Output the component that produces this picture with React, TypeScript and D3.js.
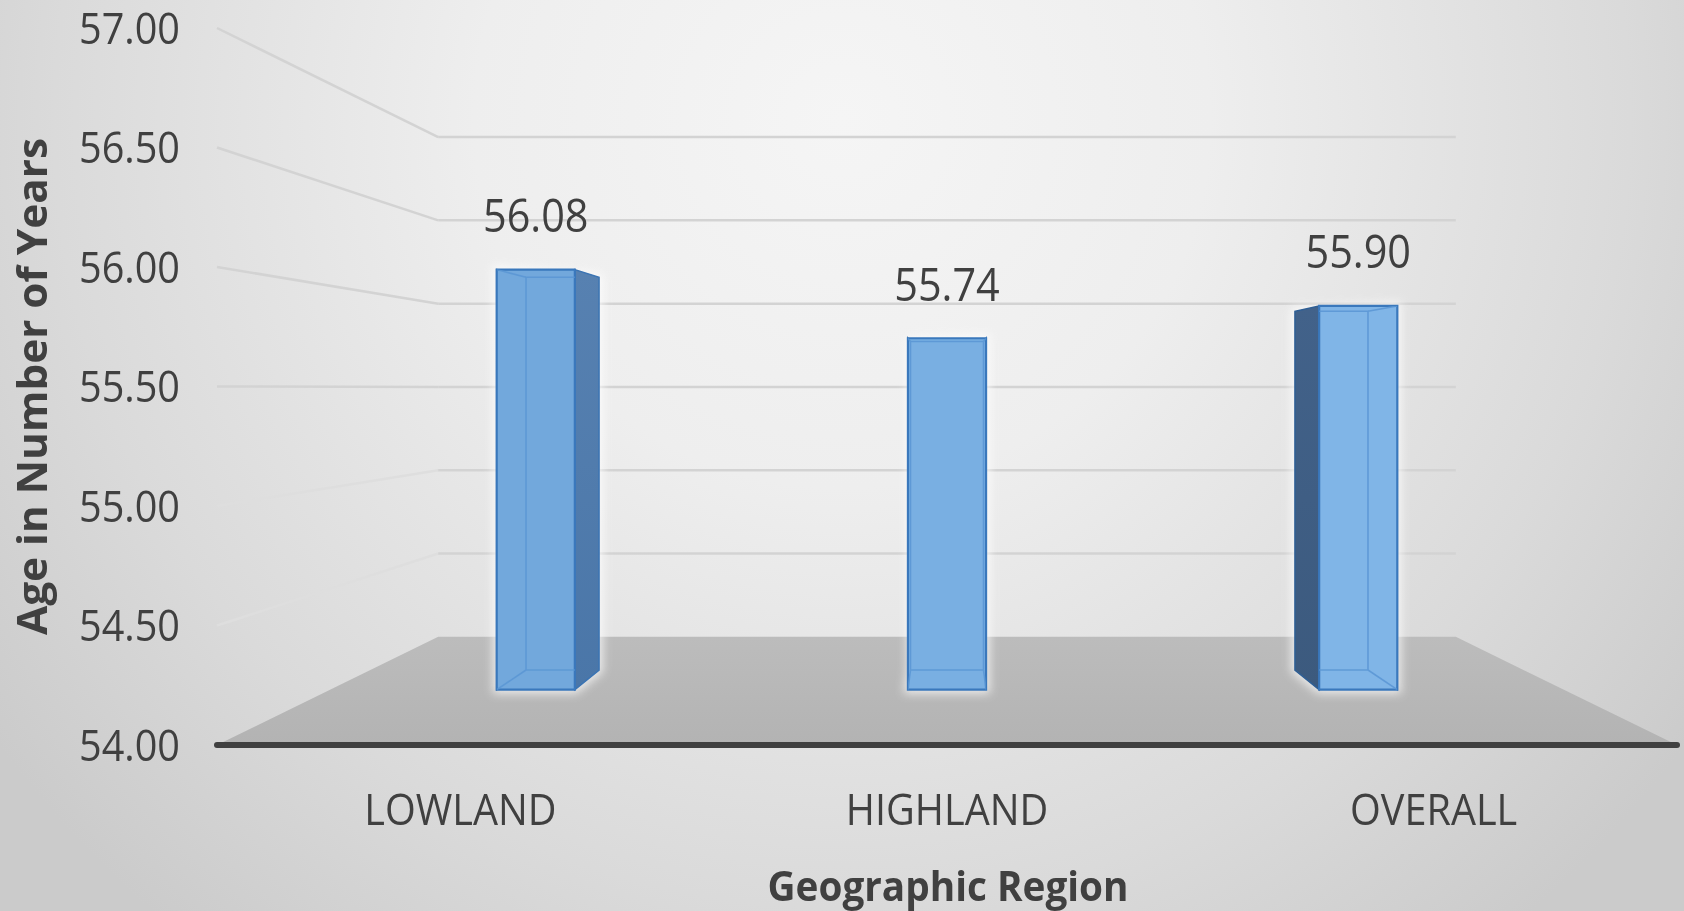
import React from "react";
import * as d3 from "d3";

// Mean age by geographic region
const categories = ["LOWLAND", "HIGHLAND", "OVERALL"];
const ages = [56.08, 55.74, 55.9];
const yTicks = [54, 54.5, 55, 55.5, 56, 56.5, 57];

const W = 1684;
const H = 911;

// simple one-point perspective: everything is laid out on the front plane
// and pulled toward the vanishing point by a depth factor k (1 = front)
const VP_X = 947;
const VP_Y = 388;
const K_BAR_FRONT = 0.845;
const K_BAR_BACK = 0.79;
const K_WALL = 0.697;

const FONT = "'Open Sans', 'Noto Sans', sans-serif";
const TEXT = "#404040";

type Pt = [number, number];
const proj = (px: number, py: number, k: number): Pt => [
  VP_X + (px - VP_X) * k,
  VP_Y + (py - VP_Y) * k,
];
const poly = (pts: Pt[]) => pts.map((p) => p.join(",")).join(" ");

export default function App() {
  const x = d3.scaleBand<string>().domain(categories).range([217, 1677]);
  const y = d3.scaleLinear().domain([54, 57]).range([745, 28]);
  const fmt = d3.format(".2f");
  const [fx0, fx1] = x.range();
  const barHalf = x.bandwidth() * 0.095;
  const frontTint = d3.interpolateRgb("#6ea5d9", "#83b8ea");

  const floor: Pt[] = [
    [fx0, y(54)],
    [fx1, y(54)],
    proj(fx1, y(54), K_WALL),
    proj(fx0, y(54), K_WALL),
  ];

  const bars = categories.map((c, i) => {
    const cx = (x(c) as number) + x.bandwidth() / 2;
    const x0 = cx - barHalf;
    const x1 = cx + barHalf;
    const top = y(ages[i]);
    const bot = y(54);
    const f = (px: number, py: number) => proj(px, py, K_BAR_FRONT);
    const b = (px: number, py: number) => proj(px, py, K_BAR_BACK);
    return {
      c,
      v: ages[i],
      t: (cx - fx0) / (fx1 - fx0),
      front: [f(x0, top), f(x1, top), f(x1, bot), f(x0, bot)] as Pt[],
      back: [b(x0, top), b(x1, top), b(x1, bot), b(x0, bot)] as Pt[],
      rightSide: [f(x1, top), b(x1, top), b(x1, bot), f(x1, bot)] as Pt[],
      leftSide: [f(x0, top), b(x0, top), b(x0, bot), f(x0, bot)] as Pt[],
      labelX: f(cx, top)[0],
      labelY: f(cx, top)[1] - 54,
    };
  });

  return (
    <svg
      width={W}
      height={H}
      viewBox={`0 0 ${W} ${H}`}
      style={{ position: "fixed", left: 0, top: 0, display: "block" }}
    >
      <defs>
        <radialGradient id="bg" gradientUnits="userSpaceOnUse" cx={842} cy={120} r={1050}>
          <stop offset="0" stopColor="#f5f5f5" />
          <stop offset="0.35" stopColor="#eeeeee" />
          <stop offset="0.75" stopColor="#dadada" />
          <stop offset="1" stopColor="#cbcbcb" />
        </radialGradient>
        <linearGradient id="floorFill" x1="0" y1="0" x2="0" y2="1">
          <stop offset="0" stopColor="#bcbcbc" />
          <stop offset="1" stopColor="#b3b3b3" />
        </linearGradient>
        <linearGradient id="sideR" x1="0" y1="0" x2="0" y2="1">
          <stop offset="0" stopColor="#5781b1" />
          <stop offset="1" stopColor="#4a76a8" />
        </linearGradient>
        <linearGradient id="sideL" x1="0" y1="0" x2="0" y2="1">
          <stop offset="0" stopColor="#42628a" />
          <stop offset="1" stopColor="#3c5a7e" />
        </linearGradient>
        <filter id="glow" x="-30%" y="-10%" width="160%" height="120%">
          <feGaussianBlur stdDeviation="5" />
        </filter>
        {bars.map((b, i) => (
          <clipPath id={`face-${i}`} key={b.c}>
            <polygon points={poly(b.front)} />
          </clipPath>
        ))}
      </defs>

      <rect x={0} y={0} width={W} height={H} fill="url(#bg)" />

      {/* side wall and back wall gridlines */}
      <g strokeWidth={2.5} fill="none">
        {yTicks
          .filter((v) => v > 54)
          .map((v) => {
            const a = proj(fx0, y(v), 1);
            const b = proj(fx0, y(v), K_WALL);
            const c = proj(fx1, y(v), K_WALL);
            const low = y(v) > VP_Y + 5;
            return (
              <g key={v}>
                <line x1={a[0]} y1={a[1]} x2={b[0]} y2={b[1]} stroke={low ? "#dedede" : "#d3d3d3"} />
                <line x1={b[0]} y1={b[1]} x2={c[0]} y2={c[1]} stroke="#d3d3d3" />
              </g>
            );
          })}
      </g>

      {/* floor */}
      <polygon points={poly(floor)} fill="url(#floorFill)" />
      <line
        x1={fx0}
        x2={fx1}
        y1={y(54)}
        y2={y(54)}
        stroke="#404040"
        strokeWidth={6}
        strokeLinecap="round"
      />

      {/* bars */}
      {bars.map((b, i) => {
        const hull = b.t < 0.5
          ? [b.front[0], b.rightSide[1], b.rightSide[2], b.front[2], b.front[3]]
          : [b.leftSide[1], b.front[1], b.front[2], b.front[3], b.leftSide[2]];
        const diag = [0, 1, 2, 3].map((j) => [b.front[j], b.back[j]]);
        return (
          <g key={b.c}>
            <polygon
              points={poly(hull)}
              fill="#ffffff"
              stroke="#ffffff"
              strokeWidth={8}
              opacity={0.7}
              filter="url(#glow)"
            />
            <polygon points={poly(b.rightSide)} fill="url(#sideR)" stroke="#3b74b3" strokeWidth={1.5} />
            <polygon points={poly(b.leftSide)} fill="url(#sideL)" stroke="#2f5f95" strokeWidth={1.5} />
            <polygon
              points={poly(b.front)}
              fill={frontTint(b.t)}
              stroke="#3a78bc"
              strokeWidth={2.2}
            />
            <g clipPath={`url(#face-${i})`} stroke="#5a96d4" strokeWidth={1.6} fill="none" opacity={0.85}>
              <polygon points={poly(b.back)} />
              {diag.map((d, j) => (
                <line key={j} x1={d[0][0]} y1={d[0][1]} x2={d[1][0]} y2={d[1][1]} />
              ))}
            </g>
            <text
              transform={`translate(${b.labelX},${b.labelY + 16.4}) scale(0.9,1)`}
              textAnchor="middle"
              fontFamily={FONT}
              fontSize={46}
              fill={TEXT}
            >
              {fmt(b.v)}
            </text>
          </g>
        );
      })}

      {/* value axis labels */}
      {yTicks.map((v) => (
        <text
          key={v}
          transform={`translate(180,${y(v) + 15.7}) scale(0.9,1)`}
          textAnchor="end"
          fontFamily={FONT}
          fontSize={44}
          fill={TEXT}
        >
          {fmt(v)}
        </text>
      ))}

      {/* category labels */}
      {categories.map((c) => (
        <text
          key={c}
          transform={`translate(${(x(c) as number) + x.bandwidth() / 2},825) scale(0.9,1)`}
          textAnchor="middle"
          fontFamily={FONT}
          fontSize={44}
          fill={TEXT}
        >
          {c}
        </text>
      ))}

      {/* axis titles */}
      <text
        x={948}
        y={901}
        textAnchor="middle"
        fontFamily={FONT}
        fontWeight={700}
        fontSize={42}
        fill={TEXT}
        textLength={361}
        lengthAdjust="spacingAndGlyphs"
      >
        Geographic Region
      </text>
      <text
        transform="translate(47,386.5) rotate(-90)"
        textAnchor="middle"
        fontFamily={FONT}
        fontWeight={700}
        fontSize={40.5}
        fill={TEXT}
        textLength={497}
        lengthAdjust="spacingAndGlyphs"
      >
        Age in Number of Years
      </text>
    </svg>
  );
}
